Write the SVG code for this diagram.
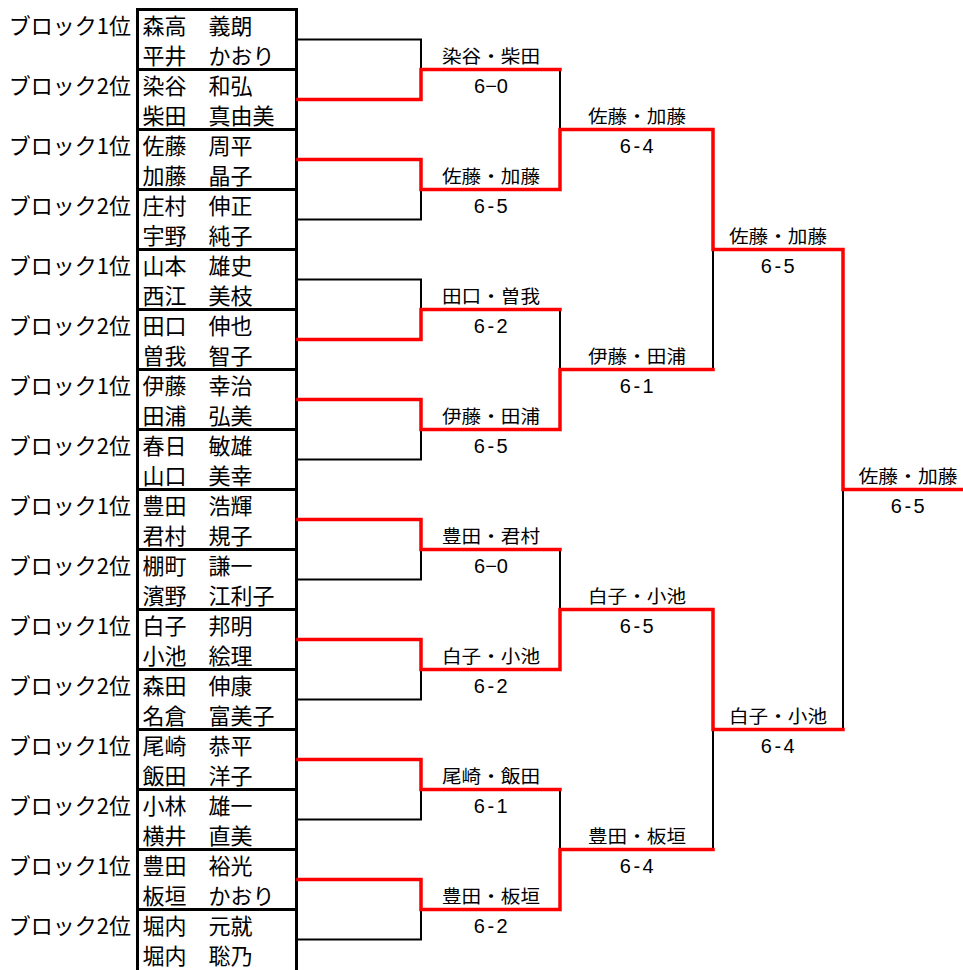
<svg xmlns="http://www.w3.org/2000/svg" width="963" height="970" viewBox="0 0 963 970">
<style>
.bg{fill:#fff}
.blk{font-family:"Noto Sans CJK JP","Noto Sans CJK SC",sans-serif;font-size:22px;text-anchor:end;fill:#000}
.nm{font-family:"Noto Sans CJK JP","Noto Sans CJK SC",sans-serif;font-size:22px;fill:#000}
.box{fill:none;stroke:#000;stroke-width:3}
.lose{fill:none;stroke:#000;stroke-width:2}
.win{fill:none;stroke:#f00;stroke-width:3.5;stroke-linecap:square;stroke-linejoin:miter}
.lbl{font-family:"Noto Sans CJK JP","Noto Sans CJK SC",sans-serif;font-size:18px;text-anchor:middle;fill:#000}
.sc{font-family:"Liberation Sans",Arial,sans-serif;font-size:20px;text-anchor:middle;letter-spacing:2.5px;fill:#000}
.sc0{letter-spacing:0}
</style>
<rect class="bg" x="0" y="0" width="963" height="970"/>

<g id="teams">
<g id="team-01"><rect class="box" x="137.5" y="9.5" width="159" height="60"/><text class="blk" x="131" y="33.5">ブロック1位</text><text class="nm" x="142.5" y="33.5">森高　義朗</text><text class="nm" x="142.5" y="63.5">平井　かおり</text></g>
<g id="team-02"><rect class="box" x="137.5" y="69.5" width="159" height="60"/><text class="blk" x="131" y="93.5">ブロック2位</text><text class="nm" x="142.5" y="93.5">染谷　和弘</text><text class="nm" x="142.5" y="123.5">柴田　真由美</text></g>
<g id="team-03"><rect class="box" x="137.5" y="129.5" width="159" height="60"/><text class="blk" x="131" y="153.5">ブロック1位</text><text class="nm" x="142.5" y="153.5">佐藤　周平</text><text class="nm" x="142.5" y="183.5">加藤　晶子</text></g>
<g id="team-04"><rect class="box" x="137.5" y="189.5" width="159" height="60"/><text class="blk" x="131" y="213.5">ブロック2位</text><text class="nm" x="142.5" y="213.5">庄村　伸正</text><text class="nm" x="142.5" y="243.5">宇野　純子</text></g>
<g id="team-05"><rect class="box" x="137.5" y="249.5" width="159" height="60"/><text class="blk" x="131" y="273.5">ブロック1位</text><text class="nm" x="142.5" y="273.5">山本　雄史</text><text class="nm" x="142.5" y="303.5">西江　美枝</text></g>
<g id="team-06"><rect class="box" x="137.5" y="309.5" width="159" height="60"/><text class="blk" x="131" y="333.5">ブロック2位</text><text class="nm" x="142.5" y="333.5">田口　伸也</text><text class="nm" x="142.5" y="363.5">曽我　智子</text></g>
<g id="team-07"><rect class="box" x="137.5" y="369.5" width="159" height="60"/><text class="blk" x="131" y="393.5">ブロック1位</text><text class="nm" x="142.5" y="393.5">伊藤　幸治</text><text class="nm" x="142.5" y="423.5">田浦　弘美</text></g>
<g id="team-08"><rect class="box" x="137.5" y="429.5" width="159" height="60"/><text class="blk" x="131" y="453.5">ブロック2位</text><text class="nm" x="142.5" y="453.5">春日　敏雄</text><text class="nm" x="142.5" y="483.5">山口　美幸</text></g>
<g id="team-09"><rect class="box" x="137.5" y="489.5" width="159" height="60"/><text class="blk" x="131" y="513.5">ブロック1位</text><text class="nm" x="142.5" y="513.5">豊田　浩輝</text><text class="nm" x="142.5" y="543.5">君村　規子</text></g>
<g id="team-10"><rect class="box" x="137.5" y="549.5" width="159" height="60"/><text class="blk" x="131" y="573.5">ブロック2位</text><text class="nm" x="142.5" y="573.5">棚町　謙一</text><text class="nm" x="142.5" y="603.5">濱野　江利子</text></g>
<g id="team-11"><rect class="box" x="137.5" y="609.5" width="159" height="60"/><text class="blk" x="131" y="633.5">ブロック1位</text><text class="nm" x="142.5" y="633.5">白子　邦明</text><text class="nm" x="142.5" y="663.5">小池　絵理</text></g>
<g id="team-12"><rect class="box" x="137.5" y="669.5" width="159" height="60"/><text class="blk" x="131" y="693.5">ブロック2位</text><text class="nm" x="142.5" y="693.5">森田　伸康</text><text class="nm" x="142.5" y="723.5">名倉　富美子</text></g>
<g id="team-13"><rect class="box" x="137.5" y="729.5" width="159" height="60"/><text class="blk" x="131" y="753.5">ブロック1位</text><text class="nm" x="142.5" y="753.5">尾崎　恭平</text><text class="nm" x="142.5" y="783.5">飯田　洋子</text></g>
<g id="team-14"><rect class="box" x="137.5" y="789.5" width="159" height="60"/><text class="blk" x="131" y="813.5">ブロック2位</text><text class="nm" x="142.5" y="813.5">小林　雄一</text><text class="nm" x="142.5" y="843.5">横井　直美</text></g>
<g id="team-15"><rect class="box" x="137.5" y="849.5" width="159" height="60"/><text class="blk" x="131" y="873.5">ブロック1位</text><text class="nm" x="142.5" y="873.5">豊田　裕光</text><text class="nm" x="142.5" y="903.5">板垣　かおり</text></g>
<g id="team-16"><rect class="box" x="137.5" y="909.5" width="159" height="62"/><text class="blk" x="131" y="933.5">ブロック2位</text><text class="nm" x="142.5" y="933.5">堀内　元就</text><text class="nm" x="142.5" y="963.5">堀内　聡乃</text></g>
</g>

<g id="connectors">
<path class="lose" d="M298 39.5H421V69.5M298 219.5H421V189.5M298 279.5H421V309.5M298 459.5H421V429.5M298 579.5H421V549.5M298 699.5H421V669.5M298 819.5H421V789.5M298 939.5H421V909.5"/>
<path class="lose" d="M560 69.5V129.5M560 309.5V369.5M560 549.5V609.5M560 789.5V849.5"/>
<path class="lose" d="M713 369.5V249.5M713 849.5V729.5M843 729.5V489.5"/>
<path class="win" d="M298 99.5H421V69.5H560"/>
<path class="win" d="M298 159.5H421V189.5H560V129.5H713V249.5H843V489.5H963"/>
<path class="win" d="M298 339.5H421V309.5H560"/>
<path class="win" d="M298 399.5H421V429.5H560V369.5H713"/>
<path class="win" d="M298 519.5H421V549.5H560"/>
<path class="win" d="M298 639.5H421V669.5H560V609.5H713V729.5H843"/>
<path class="win" d="M298 759.5H421V789.5H560"/>
<path class="win" d="M298 879.5H421V909.5H560V849.5H713"/>
</g>

<g id="results">
<g id="r1-1"><text class="lbl" x="491" y="62.5" textLength="98" lengthAdjust="spacingAndGlyphs">染谷・柴田</text><text class="sc sc0" x="491" y="92.5">6−0</text></g>
<g id="r1-2"><text class="lbl" x="491" y="182.5" textLength="98" lengthAdjust="spacingAndGlyphs">佐藤・加藤</text><text class="sc" x="492" y="212.5">6-5</text></g>
<g id="r1-3"><text class="lbl" x="491" y="302.5" textLength="98" lengthAdjust="spacingAndGlyphs">田口・曽我</text><text class="sc" x="492" y="332.5">6-2</text></g>
<g id="r1-4"><text class="lbl" x="491" y="422.5" textLength="98" lengthAdjust="spacingAndGlyphs">伊藤・田浦</text><text class="sc" x="492" y="452.5">6-5</text></g>
<g id="r1-5"><text class="lbl" x="491" y="542.5" textLength="98" lengthAdjust="spacingAndGlyphs">豊田・君村</text><text class="sc sc0" x="491" y="572.5">6−0</text></g>
<g id="r1-6"><text class="lbl" x="491" y="662.5" textLength="98" lengthAdjust="spacingAndGlyphs">白子・小池</text><text class="sc" x="492" y="692.5">6-2</text></g>
<g id="r1-7"><text class="lbl" x="491" y="782.5" textLength="98" lengthAdjust="spacingAndGlyphs">尾崎・飯田</text><text class="sc" x="492" y="812.5">6-1</text></g>
<g id="r1-8"><text class="lbl" x="491" y="902.5" textLength="98" lengthAdjust="spacingAndGlyphs">豊田・板垣</text><text class="sc" x="492" y="932.5">6-2</text></g>
<g id="r2-1"><text class="lbl" x="637" y="122.5" textLength="98" lengthAdjust="spacingAndGlyphs">佐藤・加藤</text><text class="sc" x="638" y="152.5">6-4</text></g>
<g id="r2-2"><text class="lbl" x="637" y="362.5" textLength="98" lengthAdjust="spacingAndGlyphs">伊藤・田浦</text><text class="sc" x="638" y="392.5">6-1</text></g>
<g id="r2-3"><text class="lbl" x="637" y="602.5" textLength="98" lengthAdjust="spacingAndGlyphs">白子・小池</text><text class="sc" x="638" y="632.5">6-5</text></g>
<g id="r2-4"><text class="lbl" x="637" y="842.5" textLength="98" lengthAdjust="spacingAndGlyphs">豊田・板垣</text><text class="sc" x="638" y="872.5">6-4</text></g>
<g id="r3-1"><text class="lbl" x="778" y="242.5" textLength="98" lengthAdjust="spacingAndGlyphs">佐藤・加藤</text><text class="sc" x="779" y="272.5">6-5</text></g>
<g id="r3-2"><text class="lbl" x="778" y="722.5" textLength="98" lengthAdjust="spacingAndGlyphs">白子・小池</text><text class="sc" x="779" y="752.5">6-4</text></g>
<g id="final"><text class="lbl" x="908" y="482.5" textLength="99" lengthAdjust="spacingAndGlyphs">佐藤・加藤</text><text class="sc" x="909" y="512.5">6-5</text></g>
</g>
</svg>
